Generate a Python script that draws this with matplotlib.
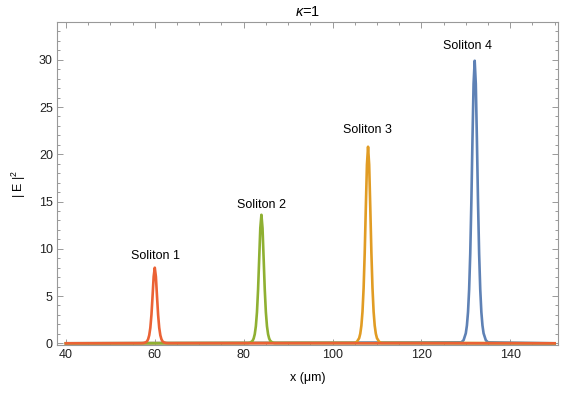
import matplotlib
matplotlib.use("Agg")
import matplotlib.pyplot as plt
import numpy as np

plt.rcParams['font.family'] = ['Liberation Sans', 'DejaVu Sans']
plt.rcParams['mathtext.fontset'] = 'custom'
plt.rcParams['mathtext.rm'] = 'Liberation Sans'
plt.rcParams['mathtext.it'] = 'Liberation Sans:italic'

# sample offsets (um) around each soliton centre
offsets = [-3.0, -2.5, -2.0, -1.75, -1.5, -1.25, -1.0, -0.75, -0.5, -0.25, 0.0,
           0.25, 0.5, 0.75, 1.0, 1.25, 1.5, 1.75, 2.0, 2.5, 3.0]

# |E|^2 (one half, mirrored about the peak)
half1 = [0.01, 0.03, 0.11, 0.21, 0.43, 0.85, 1.64, 3.01, 4.99, 7.06, 8.0]
half2 = [0.02, 0.07, 0.26, 0.50, 0.96, 1.81, 3.30, 5.71, 8.98, 12.19, 13.6]
half3 = [0.05, 0.16, 0.55, 1.02, 1.87, 3.35, 5.83, 9.59, 14.40, 18.90, 20.8]
half4 = [0.10, 0.33, 1.06, 1.89, 3.31, 5.70, 9.48, 14.93, 21.54, 27.46, 29.9]

centers = [60, 84, 108, 132]
names = ['Soliton 1', 'Soliton 2', 'Soliton 3', 'Soliton 4']
label_x = [60.2, 84.1, 107.9, 130.4]
label_y = [9.2, 14.6, 22.6, 31.5]
colors = ['#EB6235', '#8FB032', '#E19C24', '#5E81B5']

x_min, x_max = 40, 150

fig = plt.figure(figsize=(5.68, 4.0), dpi=100)
ax = fig.add_axes([0.1004, 0.1375, 0.8816, 0.8075])

halves = [half1, half2, half3, half4]
# soliton 4 is the first series, soliton 1 ends up on top
for i in [3, 2, 1, 0]:
    h = halves[i]
    y = h + h[-2::-1]
    x = [x_min] + [centers[i] + o for o in offsets] + [x_max]
    y = [0] + y + [0]
    ax.plot(x, y, color=colors[i], lw=1.9, solid_joinstyle='round')

for i in range(4):
    ax.text(label_x[i], label_y[i], names[i], ha='center', va='center',
            fontsize=9, color='black')

ax.set_xlim(38.0, 150.7)
ax.set_ylim(-0.18, 34.0)
ax.set_xticks(np.arange(40, 151, 20))
ax.set_xticks(np.arange(40, 151, 5), minor=True)
ax.set_yticks(np.arange(0, 31, 5))
ax.set_yticks(np.arange(0, 34, 1), minor=True)

for s in ax.spines.values():
    s.set_color('#999999')
    s.set_linewidth(0.8)
ax.tick_params(which='both', direction='in', top=True, right=True,
               color='#999999', width=0.7, labelsize=9, labelcolor='#222222')
ax.tick_params(which='major', length=4, pad=3)
ax.tick_params(which='minor', length=2.5)

ax.set_title(r'$\kappa$=1', fontsize=10.5, pad=4)
ax.set_xlabel('x (μm)', fontsize=9, labelpad=8)
ax.set_ylabel('| E |$^{2}$', fontsize=9, labelpad=8)

fig.savefig('out.png', dpi=100)
